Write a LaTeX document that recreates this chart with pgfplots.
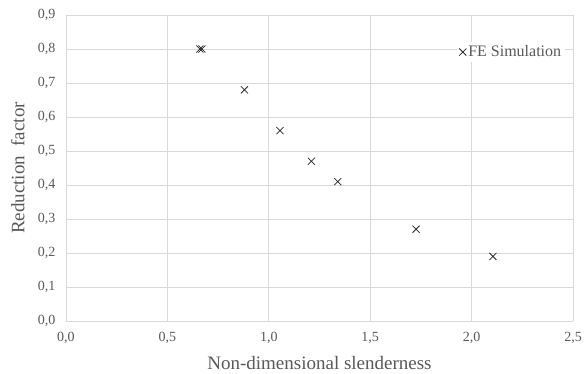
\documentclass[border=0pt]{standalone}
\usepackage{pgfplots}
\pgfplotsset{compat=1.18}
\usepackage{fontspec}
\setmainfont{Liberation Serif}
\definecolor{txt}{HTML}{595959}
\definecolor{grd}{HTML}{D9D9D9}
\begin{document}
\begin{tikzpicture}
\path[use as bounding box] (-66pt,-53pt) rectangle (518pt,321pt);
\begin{axis}[
  scale only axis, width=507pt, height=306pt,
  xmin=0, xmax=2.5, ymin=0, ymax=0.9,
  xtick={0,0.5,...,2.5}, ytick={0,0.1,...,0.9},
  axis line style={draw=none},
  x axis line style={draw=grd},
  axis x line*=bottom, axis y line*=left,
  major tick length=0pt,
  grid=major, major grid style={grd, line width=0.8pt},
  /pgf/number format/.cd, fixed, fixed zerofill, precision=1, use comma, assume math mode=true,
  /pgfplots/.cd,
  ticklabel style={font=\fontsize{14}{16}\selectfont, text=txt},
  xticklabel style={anchor=center, yshift=-17pt},
  yticklabel style={anchor=east, xshift=-7pt},
  xlabel={Non-dimensional slenderness},
  ylabel={Reduction\ \ factor},
  label style={font=\fontsize{19}{21}\selectfont, text=txt},
  xlabel style={at={(axis description cs:0.5,0)}, anchor=center, yshift=-42pt},
  ylabel style={at={(axis description cs:-0.095,0.5)}, anchor=center},
  legend style={at={(0.985,0.879)}, anchor=east, draw=none, fill=white,
    font=\fontsize{16}{18}\selectfont, text=txt, inner sep=2pt},
  legend cell align=left,
  legend image code/.code={\draw[#1] (0pt,0pt) plot coordinates {(0.12cm,0pt)};},
]
\addplot[only marks, mark=x, mark size=5pt, black!85, mark options={line width=0.75pt}]
  coordinates {(0.66,0.80)(0.67,0.80)(0.88,0.68)(1.055,0.56)(1.21,0.47)(1.34,0.41)(1.726,0.27)(2.105,0.19)};
\addlegendentry{FE Simulation}
\end{axis}
\end{tikzpicture}
\end{document}
